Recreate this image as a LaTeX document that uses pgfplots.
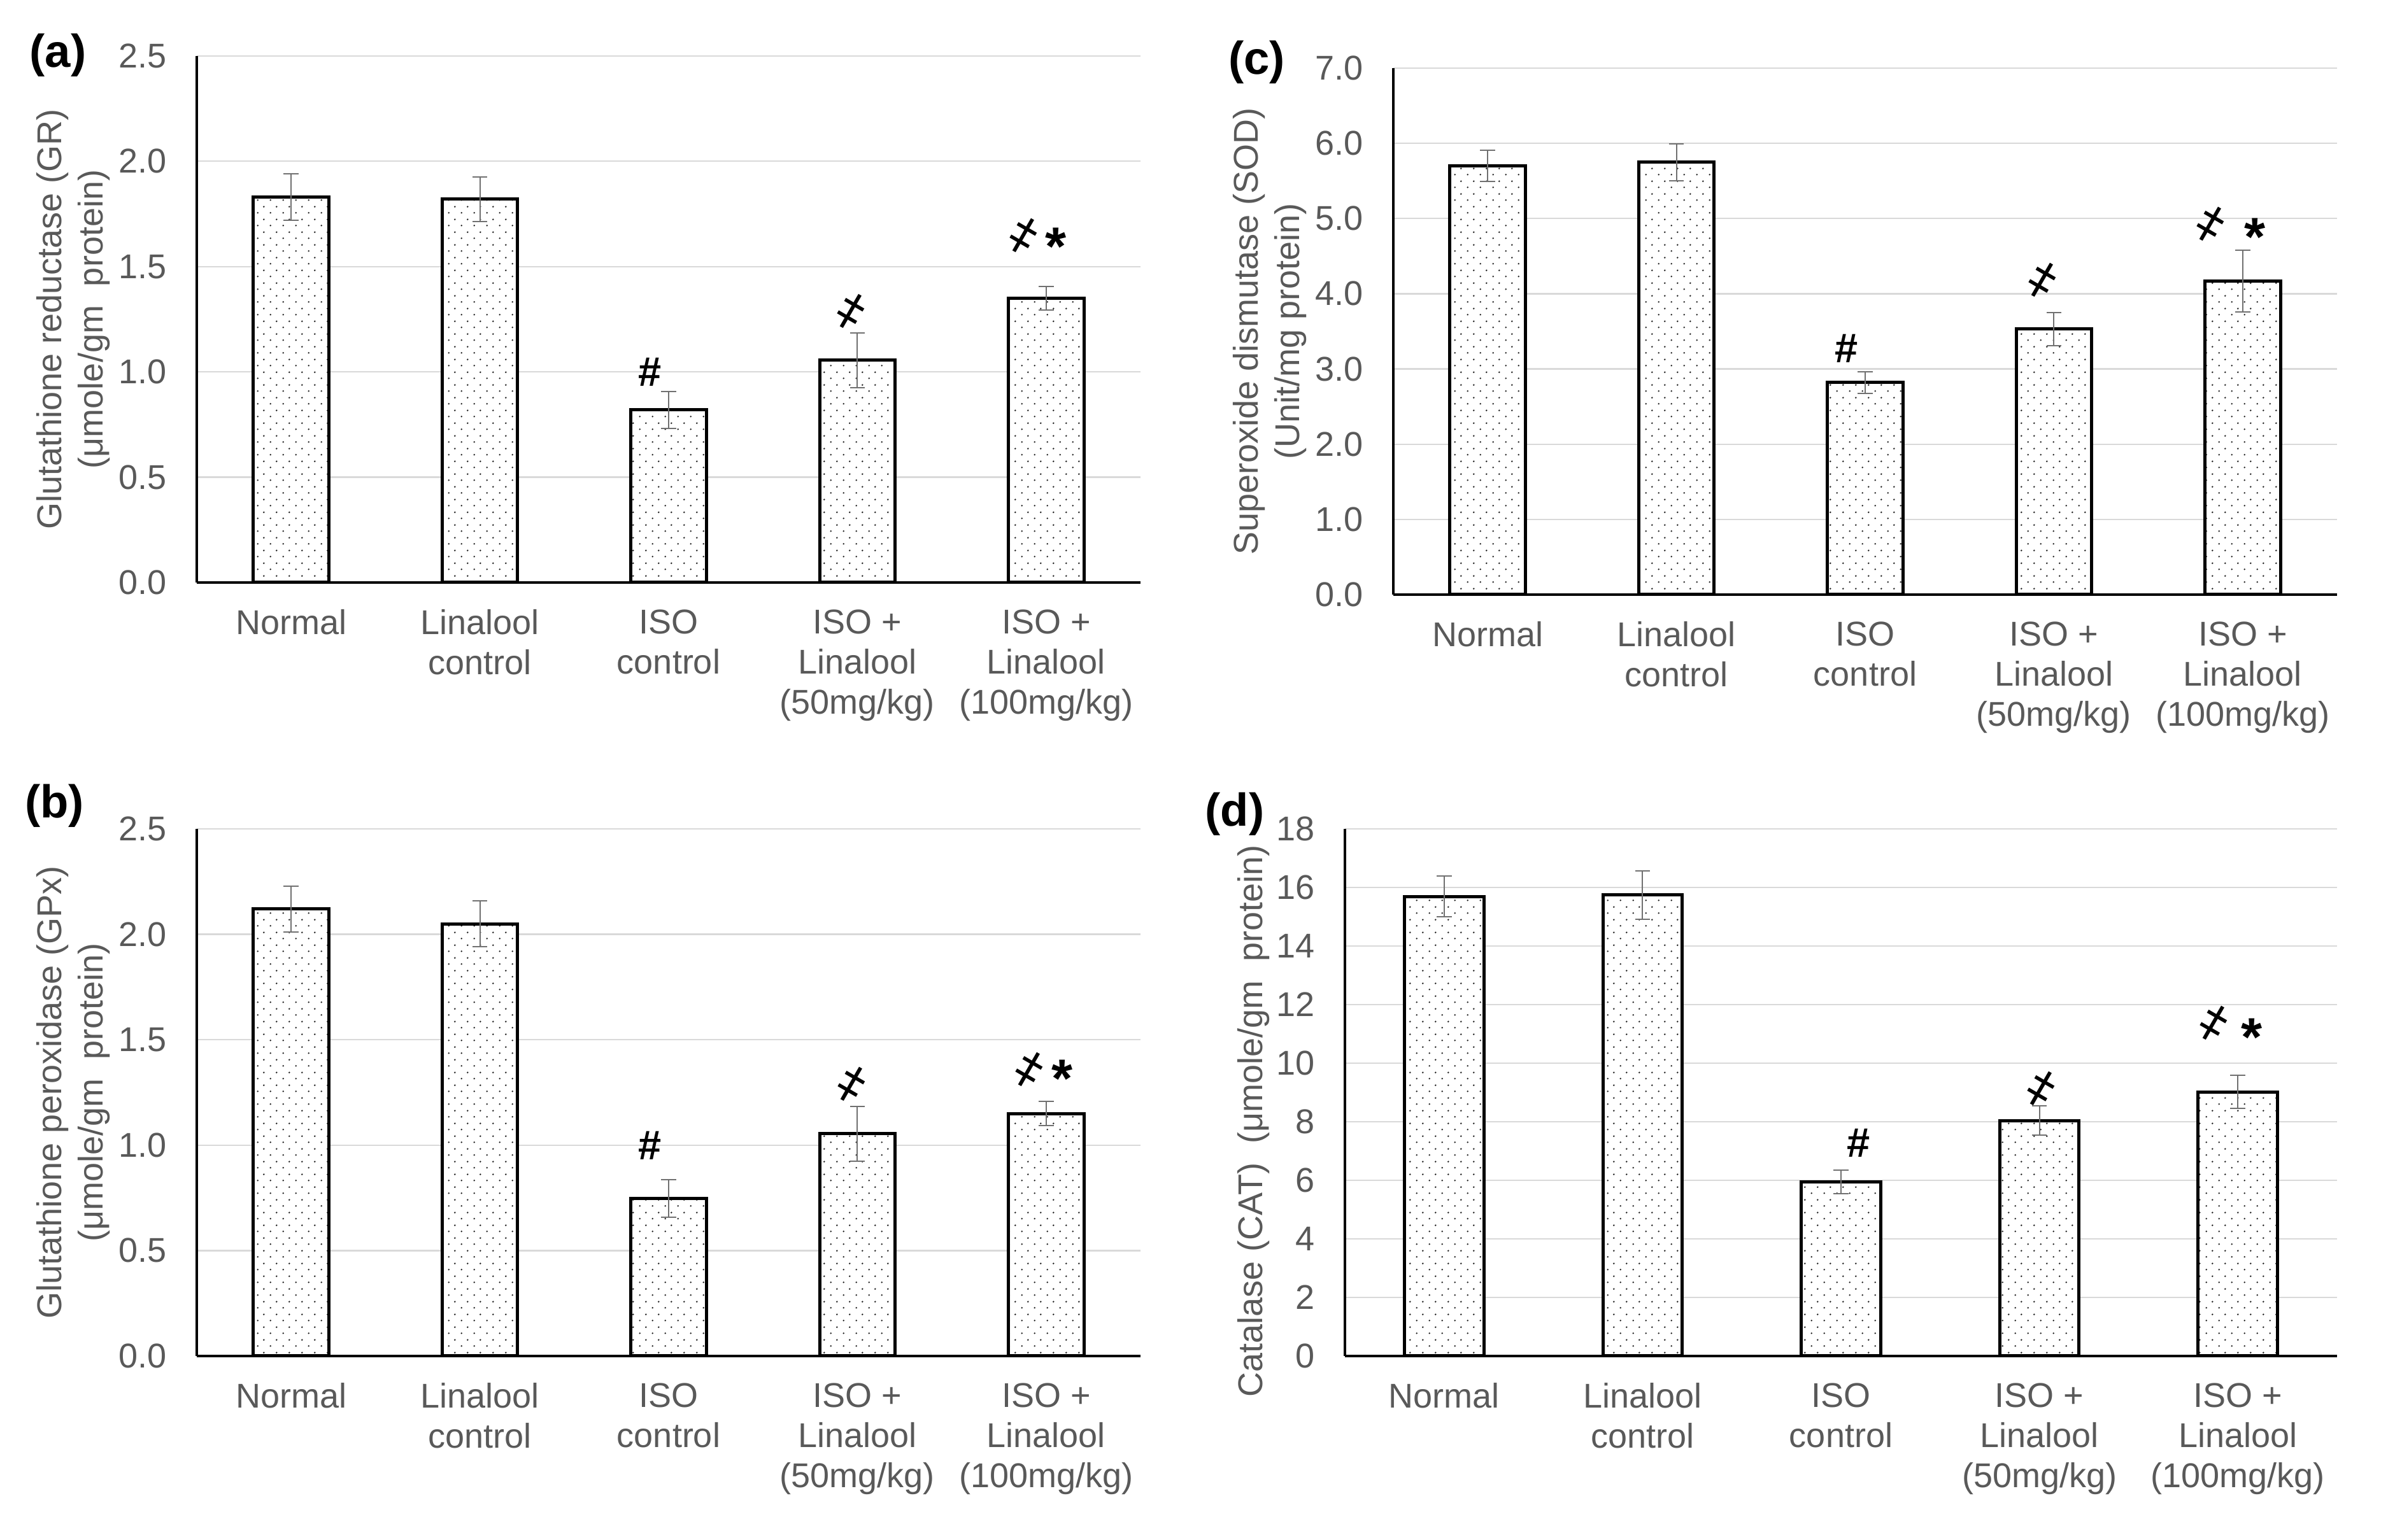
\documentclass[border=0pt]{standalone}
\usepackage{fontspec}
\setmainfont{Liberation Sans}
\newfontfamily\symfont{Noto Sans}
\usepackage{pgfplots}
\pgfplotsset{compat=1.18}
\usetikzlibrary{patterns.meta}

\definecolor{txtgray}{HTML}{595959}
\definecolor{gridgray}{HTML}{D9D9D9}
\definecolor{errgray}{HTML}{707070}

% sparse offset dots like the Excel "5%" fill
\tikzdeclarepattern{
  name=sparsedots,
  type=uncolored,
  bounding box={(0pt,0pt) and (4pt,4pt)},
  tile size={(4pt,4pt)},
  code={\fill (1pt,1pt) circle (0.3pt); \fill (3pt,3pt) circle (0.3pt);}
}

\pgfplotsset{
  panel/.style={
    scale only axis,
    width=296.4pt, height=165.4pt,
    xmin=-0.5, xmax=4.5, ymin=0,
    xtick={0,...,4},
    xticklabels={Normal,{Linalool\\control},{ISO\\control},{ISO +\\Linalool\\(50mg/kg)},{ISO +\\Linalool\\(100mg/kg)}},
    axis x line*=bottom, axis y line*=left,
    axis line style={black, line width=0.8pt, -},
    major tick length=0pt,
    ymajorgrids, grid style={gridgray, line width=0.45pt},
    tick label style={font=\fontsize{10.8}{12.6}\selectfont, text=txtgray},
    xticklabel style={align=center, yshift=-5pt},
    yticklabel style={xshift=-6pt},
    /pgf/number format/assume math mode=true,
    ylabel style={font=\fontsize{10.8}{13}\selectfont, text=txtgray, align=center,
      anchor=center, at={(axis description cs:-0.1306,0.5)}},
    clip=false,
  },
  bars/.style={ybar, bar width=0.4, draw=black, line width=1pt, fill=white,
    postaction={pattern=sparsedots, pattern color=black!85},
    error bars/.cd, y dir=both, y explicit,
    error bar style={errgray, line width=0.4pt},
    error mark options={rotate=90, errgray, mark size=2.35pt, line width=0.4pt}},
}

\newcommand{\sighash}[2]{\node[font=\bfseries\fontsize{13}{13}\selectfont] at (axis cs:#1,#2) {\#};}
\newcommand{\sigthou}[2]{\node[font=\symfont\bfseries\fontsize{17}{17}\selectfont] at (axis cs:#1,#2) {҂};}
\newcommand{\sigstar}[2]{\node[font=\bfseries\fontsize{17}{17}\selectfont, yshift=-3.6pt] at (axis cs:#1,#2) {*};}
\newcommand{\plab}[3]{\node[font=\bfseries\fontsize{14.5}{14.5}\selectfont] at (#1,#2) {#3};}

\begin{document}
\begin{tikzpicture}
\path[use as bounding box] (0pt,0pt) rectangle (750pt,483.8pt);

% (a) GR
\begin{axis}[panel, at={(61.8pt,300.8pt)}, anchor=south west,
  ymax=2.5, ytick={0,0.5,...,2.5},
  yticklabel style={/pgf/number format/.cd, fixed, fixed zerofill, precision=1},
  ylabel={Glutathione reductase (GR)\\(μmole/gm~~protein)}]
\addplot[bars] coordinates {
  (0,1.83) +- (0,0.110)
  (1,1.82) +- (0,0.107)
  (2,0.82) +- (0,0.088)
  (3,1.055) +- (0,0.130)
  (4,1.35) +- (0,0.055)
};
\sighash{1.9}{1.0}
\sigthou{2.965}{1.288}
\sigthou{3.882}{1.647}
\sigstar{4.05}{1.65}
\end{axis}

% (c) SOD
\begin{axis}[panel, at={(437.6pt,297pt)}, anchor=south west,
  ymax=7, ytick={0,1,...,7},
  yticklabel style={/pgf/number format/.cd, fixed, fixed zerofill, precision=1},
  ylabel={Superoxide dismutase (SOD)\\(Unit/mg protein)}]
\addplot[bars] coordinates {
  (0,5.70) +- (0,0.21)
  (1,5.75) +- (0,0.245)
  (2,2.82) +- (0,0.145)
  (3,3.53) +- (0,0.22)
  (4,4.17) +- (0,0.41)
};
\sighash{1.9}{3.27}
\sigthou{2.94}{4.18}
\sigthou{3.83}{4.93}
\sigstar{4.064}{4.91}
\end{axis}

% (b) GPx
\begin{axis}[panel, at={(61.8pt,57.8pt)}, anchor=south west, height=165.6pt,
  ymax=2.5, ytick={0,0.5,...,2.5},
  yticklabel style={/pgf/number format/.cd, fixed, fixed zerofill, precision=1},
  ylabel={Glutathione peroxidase (GPx)\\(μmole/gm~~protein)}]
\addplot[bars] coordinates {
  (0,2.12) +- (0,0.108)
  (1,2.05) +- (0,0.108)
  (2,0.748) +- (0,0.089)
  (3,1.055) +- (0,0.130)
  (4,1.15) +- (0,0.057)
};
\sighash{1.9}{0.997}
\sigthou{2.97}{1.288}
\sigthou{3.91}{1.36}
\sigstar{4.085}{1.37}
\end{axis}

% (d) CAT
\begin{axis}[panel, at={(422.4pt,57.8pt)}, anchor=south west, width=311.6pt, height=165.6pt,
  ymax=18, ytick={0,2,...,18},
  ylabel={Catalase (CAT)~~(μmole/gm~~protein)},
  ylabel style={at={(axis description cs:-0.0918,0.446)}}]
\addplot[bars] coordinates {
  (0,15.69) +- (0,0.69)
  (1,15.74) +- (0,0.83)
  (2,5.95) +- (0,0.40)
  (3,8.04) +- (0,0.50)
  (4,9.02) +- (0,0.56)
};
\sighash{2.09}{7.28}
\sigthou{3.01}{9.14}
\sigthou{3.88}{11.38}
\sigstar{4.07}{11.27}
\end{axis}

\plab{18.2pt}{466.4pt}{(a)}
\plab{394.7pt}{464.2pt}{(c)}
\plab{17.1pt}{230.6pt}{(b)}
\plab{387.8pt}{228pt}{(d)}
\end{tikzpicture}
\end{document}
